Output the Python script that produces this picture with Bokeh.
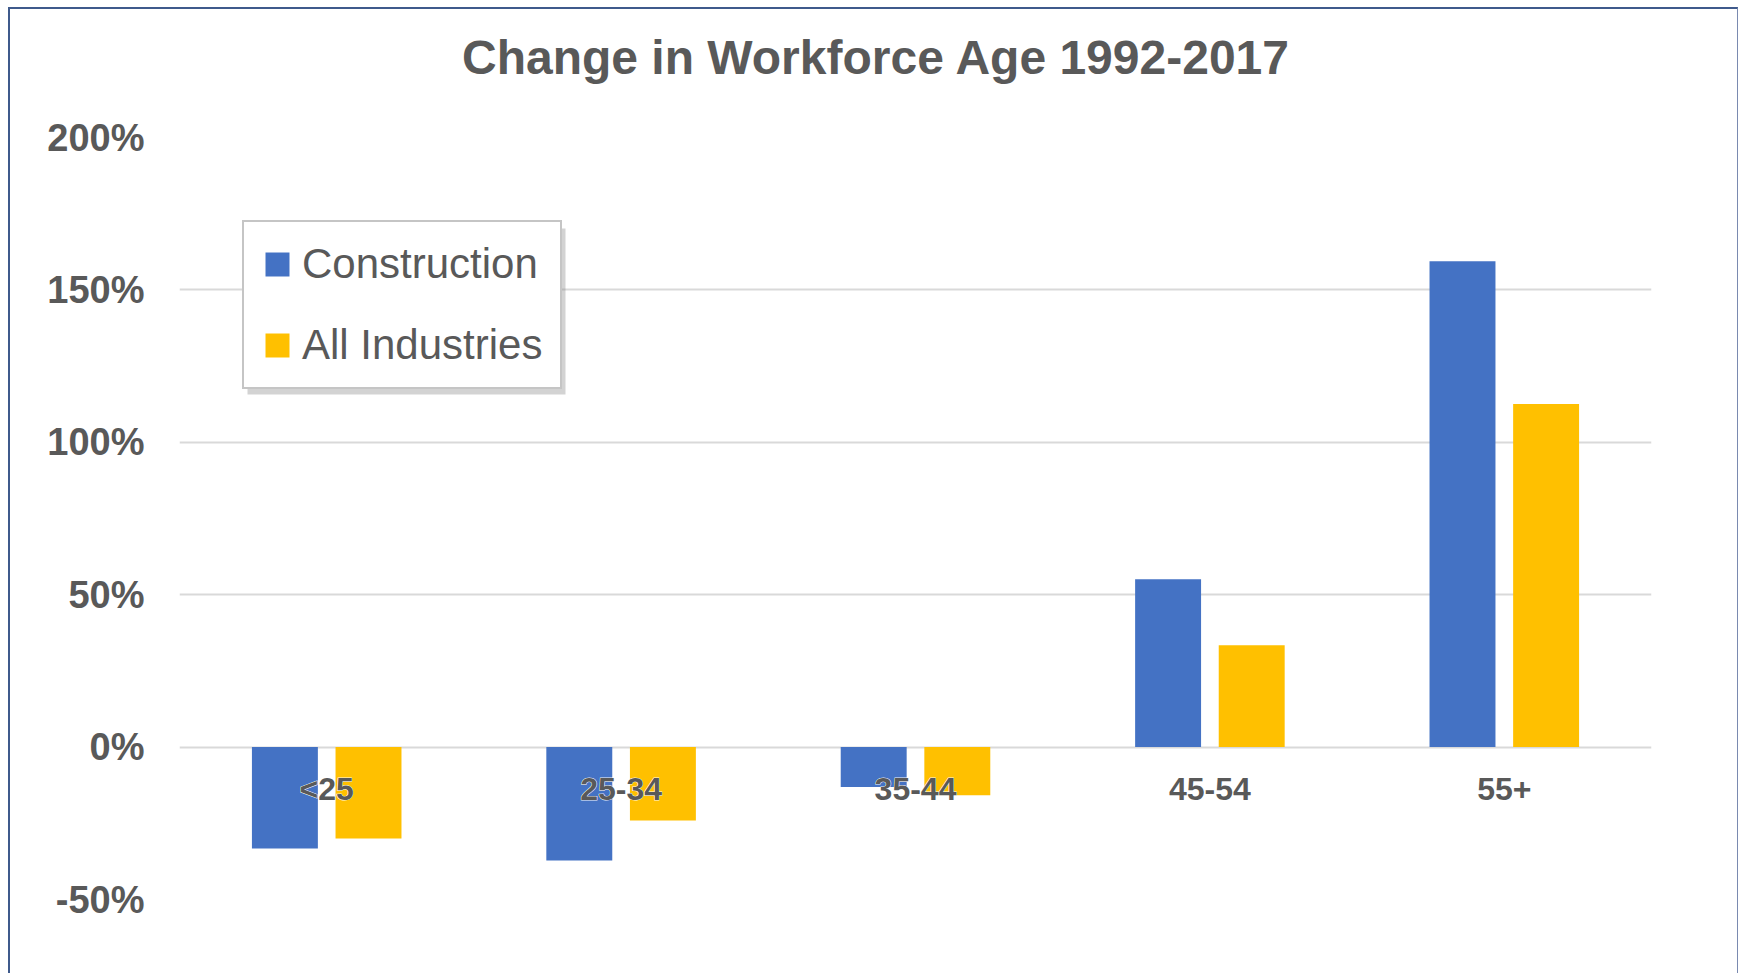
from bokeh.plotting import figure
from bokeh.layouts import column
from bokeh.models import (ColumnDataSource, Range1d, FixedTicker, CustomJSTickFormatter,
                          Legend, LegendItem, BoxAnnotation, Div)
from bokeh.transform import dodge
from bokeh.core.properties import value
from bokeh.embed import file_html
from bokeh.resources import INLINE

# ---- data ----
categories = ["<25", "25-34", "35-44", "45-54", "55+"]
construction = [-33.3, -37.2, -13.1, 55.1, 159.4]
all_industries = [-30.0, -24.1, -15.8, 33.4, 112.6]
y_ticks = [-50, 0, 50, 100, 150, 200]
series_names = ["Construction", "All Industries"]
title_text = "Change in Workforce Age 1992-2017"

BLUE = "#4472C4"
GOLD = "#FFC000"
TEXT = "#595959"
FONT = "Liberation Sans"

idx = list(range(len(categories)))
src = ColumnDataSource(dict(idx=idx, cat=categories, con=construction,
                            ind=all_industries, zero=[0] * len(categories)))

# title as an HTML block above the plot
title_div = Div(
    text=('<div style="margin:25px 0 0 452px; font-family:\'Liberation Sans\'; '
          'font-weight:bold; font-size:48px; line-height:48px; color:#595959; '
          'white-space:nowrap">' + title_text + '</div>'),
    width=1727, height=100, margin=0)

p = figure(x_range=Range1d(-0.5, len(categories) - 0.5), y_range=Range1d(-50, 200),
           width=1727, height=864, output_backend="svg", toolbar_location=None,
           min_border_left=169, min_border_right=86, min_border_top=28,
           min_border_bottom=74)
p.background_fill_color = "white"
p.border_fill_color = "white"
p.outline_line_color = None

r1 = p.vbar(x=dodge("idx", -0.142), top="con", width=0.224,
            source=src, fill_color=BLUE, line_color=None)
r2 = p.vbar(x=dodge("idx", 0.142), top="ind", width=0.224,
            source=src, fill_color=GOLD, line_color=None)

# category labels just below the zero line, with a soft white halo underneath
p.text(x="idx", y="zero", text="cat", source=src, y_offset=42,
       text_align="center", text_baseline="middle",
       text_font=value(FONT), text_font_style="bold", text_font_size="32px",
       text_color="white", text_outline_color="white", text_alpha=0.9)
p.text(x="idx", y="zero", text="cat", source=src, y_offset=42,
       text_align="center", text_baseline="middle",
       text_font=value(FONT), text_font_style="bold", text_font_size="32px",
       text_color=TEXT)

p.below[0].visible = False
p.xgrid.grid_line_color = None
p.ygrid.grid_line_color = "#D9D9D9"
p.ygrid.grid_line_width = 2
p.ygrid.ticker = FixedTicker(ticks=y_ticks)

ya = p.yaxis[0]
ya.ticker = FixedTicker(ticks=y_ticks)
ya.formatter = CustomJSTickFormatter(code="return tick.toFixed(0) + '%';")
ya.axis_line_color = None
ya.major_tick_line_color = None
ya.minor_tick_line_color = None
ya.major_tick_out = 0
ya.major_tick_in = 0
ya.major_label_standoff = 35
ya.major_label_text_font = FONT
ya.major_label_text_font_style = "bold"
ya.major_label_text_font_size = "38px"
ya.major_label_text_color = TEXT

# legend shadow
shadow = BoxAnnotation(left=68, right=386, bottom=505, top=671,
                       left_units="screen", right_units="screen",
                       bottom_units="screen", top_units="screen",
                       fill_color="#808080", fill_alpha=0.35, line_color=None)
p.add_layout(shadow)

legend = Legend(items=[LegendItem(label=series_names[0], renderers=[r1]),
                       LegendItem(label=series_names[1], renderers=[r2])],
                location=(63, 510), orientation="vertical",
                label_text_font=FONT, label_text_font_size="42px",
                label_text_color=TEXT, glyph_width=30, glyph_height=30,
                label_standoff=10, label_width=230, padding=18, spacing=33,
                border_line_color="#8C8C8C", border_line_width=2,
                background_fill_color="white", background_fill_alpha=1.0)
p.add_layout(legend, "center")

layout = column(title_div, p, spacing=0,
                styles={"margin-left": "8px", "margin-top": "7px",
                        "background-color": "white",
                        "border-top": "2px solid #3f5a8c",
                        "border-left": "2px solid #3f5a8c",
                        "border-right": "1px solid #7a8ab0"})

open("out.html", "w").write(file_html(layout, INLINE))
